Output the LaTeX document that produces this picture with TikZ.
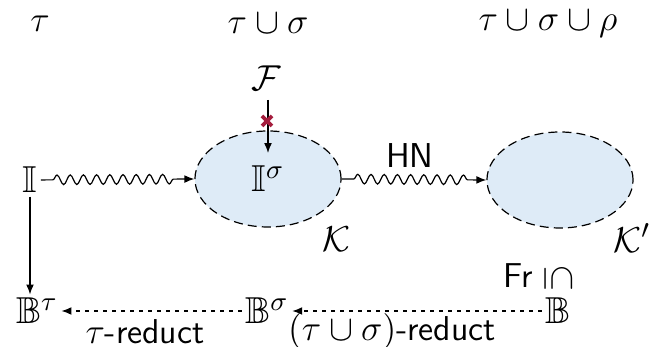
\documentclass[tikz,border=0pt]{standalone}
\usepackage{amssymb}
\usepackage{graphicx}
\usetikzlibrary{arrows.meta,decorations.pathmorphing,shapes.geometric}
\definecolor{blobfill}{RGB}{222,235,247}
\definecolor{crossred}{RGB}{165,30,62}
\tikzset{
  lbl/.style={inner sep=1pt},
  mlbl/.style={inner sep=1pt, font=\fontsize{12.5}{14}\selectfont},
  blob/.style={ellipse, draw=black, fill=blobfill, dash pattern=on 3pt off 1.7pt,
    minimum width=48.7pt, minimum height=32pt, inner sep=0pt, font=\fontsize{12.5}{14}\selectfont},
  arr/.style={-{Latex[length=3.3pt,width=2.6pt]}},
  wavy/.style={arr, decorate, decoration={snake, amplitude=1.6pt, segment length=4.4pt,
    pre length=4pt, post length=6pt}},
  dotarr/.style={arr, dash pattern=on 1.2pt off 1.8pt},
  sflbl/.style={inner sep=1pt, font=\fontsize{11.5}{13}\selectfont\sffamily},
  rlbl/.style={inner sep=1pt, font=\fontsize{11.5}{13}\selectfont\sffamily}
}
\begin{document}
\begin{tikzpicture}[x=0.3333pt,y=-0.3333pt, font=\fontsize{11.5}{13}\selectfont]
\useasboundingbox (0,0) rectangle (656,347);
% headers
\node[lbl] (h1) at (40,24) {$\tau$};
\node[lbl] (h2) at (268,24) {$\tau\cup\sigma$};
\node[lbl] (h3) at (548,24) {$\tau\cup\sigma\cup\rho$};
% nodes
\node[mlbl] (F) at (266,78) {$\mathcal{F}$};
\node[mlbl] (I) at (30,180) {$\mathbb{I}$};
\node[blob] (K1) at (268,179) {$\mathbb{I}^\sigma$};
\node[blob] (K2) at (560,180) {};
\node[mlbl] (K1l) at (336,239) {$\mathcal{K}$};
\node[mlbl] (K2l) at (632,238) {$\mathcal{K}'$};
\node[sflbl] (Fr) at (538,278) {Fr \rotatebox[origin=c]{-90}{$\subseteq$}};
\node[mlbl] (Bt) at (37,311) {$\mathbb{B}^\tau$};
\node[mlbl] (Bs) at (267,311) {$\mathbb{B}^\sigma$};
\node[mlbl] (B) at (558,311) {$\mathbb{B}$};
\node[sflbl] (HN) at (410,156) {HN};
\node[rlbl] (r1) at (145,332) {$\tau$-reduct};
\node[rlbl] (r2) at (392,332) {$(\tau\cup\sigma)$-reduct};
\coordinate (Fend) at (268,153);
\coordinate (Fs) at (268,100);
% connectors
\draw[arr] (Fs) -- (Fend);
\draw[wavy] (I) -- (K1.west);
\draw[wavy] (K1.east) -- (K2.west);
\draw[arr] (I.south) -- (I.south |- Bt.north);
\draw[dotarr] (B) -- (Bs);
\draw[dotarr] (Bs) -- (Bt);
% red cross
\coordinate (X) at (267,121);
\draw[crossred, line width=1.2pt] ([shift={(-5,-5)}]X) -- ([shift={(5,5)}]X)
  ([shift={(-5,5)}]X) -- ([shift={(5,-5)}]X);
\end{tikzpicture}
\end{document}
